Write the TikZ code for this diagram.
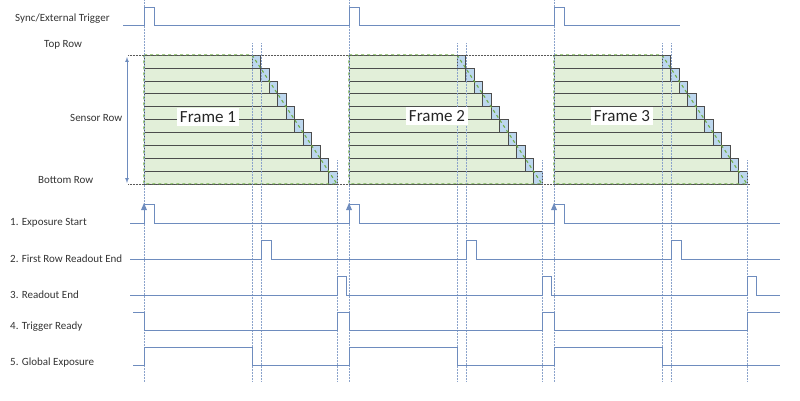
\documentclass[tikz,border=0pt]{standalone}
\usepackage{fontspec}
\setmainfont{Carlito}
\begin{document}
\begin{tikzpicture}[x=1pt,y=-1pt,
  vdot/.style={draw=sigc!80,densely dotted,line width=0.5pt},
  hdot/.style={draw=black!65,densely dotted,line width=0.5pt},
  lab/.style={font=\fontsize{11}{13}\selectfont,anchor=west,inner sep=0pt,text=black!80},
  flab/.style={font=\fontsize{17}{19}\selectfont,fill=white,inner sep=3pt,text=black!85},
  row/.style={fill=rowg,draw=black!70,line width=0.5pt},
  cell/.style={fill=cellb,draw=black!70,line width=0.5pt}]
\definecolor{sigc}{RGB}{110,140,190}
\definecolor{rowg}{RGB}{226,239,217}
\definecolor{cellb}{RGB}{189,215,238}
\definecolor{dgreen}{RGB}{112,173,71}
\useasboundingbox (0,0) rectangle (800,400);
% labels
\node[lab] (l0) at (15,19) {Sync/External Trigger};
\node[lab] (l1) at (44,45) {Top Row};
\node[lab] (l2) at (70,118) {Sensor Row};
\node[lab] (l3) at (38,180) {Bottom Row};
\node[lab] (s1) at (10,223) {1. Exposure Start};
\node[lab] (s2) at (10,259) {2. First Row Readout End};
\node[lab] (s3) at (10,295) {3. Readout End};
\node[lab] (s4) at (10,327) {4. Trigger Ready};
\node[lab] (s5) at (10,363) {5. Global Exposure};
% frames
\foreach \o/\t in {0/1,205/2,410/3}{
  \begin{scope}[xshift=\o]
  \foreach \i in {0,...,9}{
    \pgfmathsetmacro\xa{252+8.5*\i}
    \pgfmathsetmacro\ya{55+12.9*\i}
    \filldraw[row] (144,\ya) rectangle (\xa,\ya+12.9);
    \filldraw[cell] (\xa,\ya) rectangle (\xa+8.5,\ya+12.9);
  }
  \draw[dgreen,dashed,line width=1.1pt] (144,55) -- (252,55) -- (337,184) -- (144,184) -- cycle;
  \draw[vdot] (144,0) -- (144,382);
  \draw[vdot] (252,43) -- (252,382);
  \draw[vdot] (261,43) -- (261,382);
  \draw[vdot] (337,160) -- (337,382);
  \end{scope}
}
\node[flab] (f1) at (208,117) {Frame 1};
\node[flab] (f2) at (437,116) {Frame 2};
\node[flab] (f3) at (622,116) {Frame 3};
\draw[hdot] (128,55) -- (665,55);
\draw[hdot] (128,184) -- (750,184);
\draw[sigc,<->,>=latex,line width=0.7pt] (127,57) -- (127,183);
% trigger
\draw[sigc,line width=0.8pt] (123,25) -- (144,25) -- (144,7) -- (154,7) -- (154,25) -- (349,25) -- (349,7) -- (359,7) -- (359,25) -- (554,25) -- (554,7) -- (564,7) -- (564,25) -- (680,25);
% 1
\draw[sigc,line width=0.8pt] (130,223) -- (144,223) -- (144,204) -- (154,204) -- (154,223) -- (349,223) -- (349,204) -- (359,204) -- (359,223) -- (554,223) -- (554,204) -- (564,204) -- (564,223) -- (780,223);
\foreach \x in {144,349,554}{\fill[sigc] (\x-3,210) -- (\x+3,210) -- (\x,203) -- cycle;}
% 2
\draw[sigc,line width=0.8pt] (130,259) -- (261,259) -- (261,240) -- (271,240) -- (271,259) -- (466,259) -- (466,240) -- (476,240) -- (476,259) -- (671,259) -- (671,240) -- (681,240) -- (681,259) -- (780,259);
% 3
\draw[sigc,line width=0.8pt] (130,295) -- (337,295) -- (337,276) -- (346,276) -- (346,295) -- (542,295) -- (542,276) -- (551,276) -- (551,295) -- (747,295) -- (747,276) -- (756,276) -- (756,295) -- (780,295);
% 4
\draw[sigc,line width=0.8pt] (133,312) -- (144,312) -- (144,330) -- (337,330) -- (337,312) -- (349,312) -- (349,330) -- (542,330) -- (542,312) -- (554,312) -- (554,330) -- (747,330) -- (747,312) -- (780,312);
% 5
\draw[sigc,line width=0.8pt] (133,365) -- (144,365) -- (144,347) -- (252,347) -- (252,365) -- (349,365) -- (349,347) -- (457,347) -- (457,365) -- (554,365) -- (554,347) -- (662,347) -- (662,365) -- (780,365);
\end{tikzpicture}
\end{document}
